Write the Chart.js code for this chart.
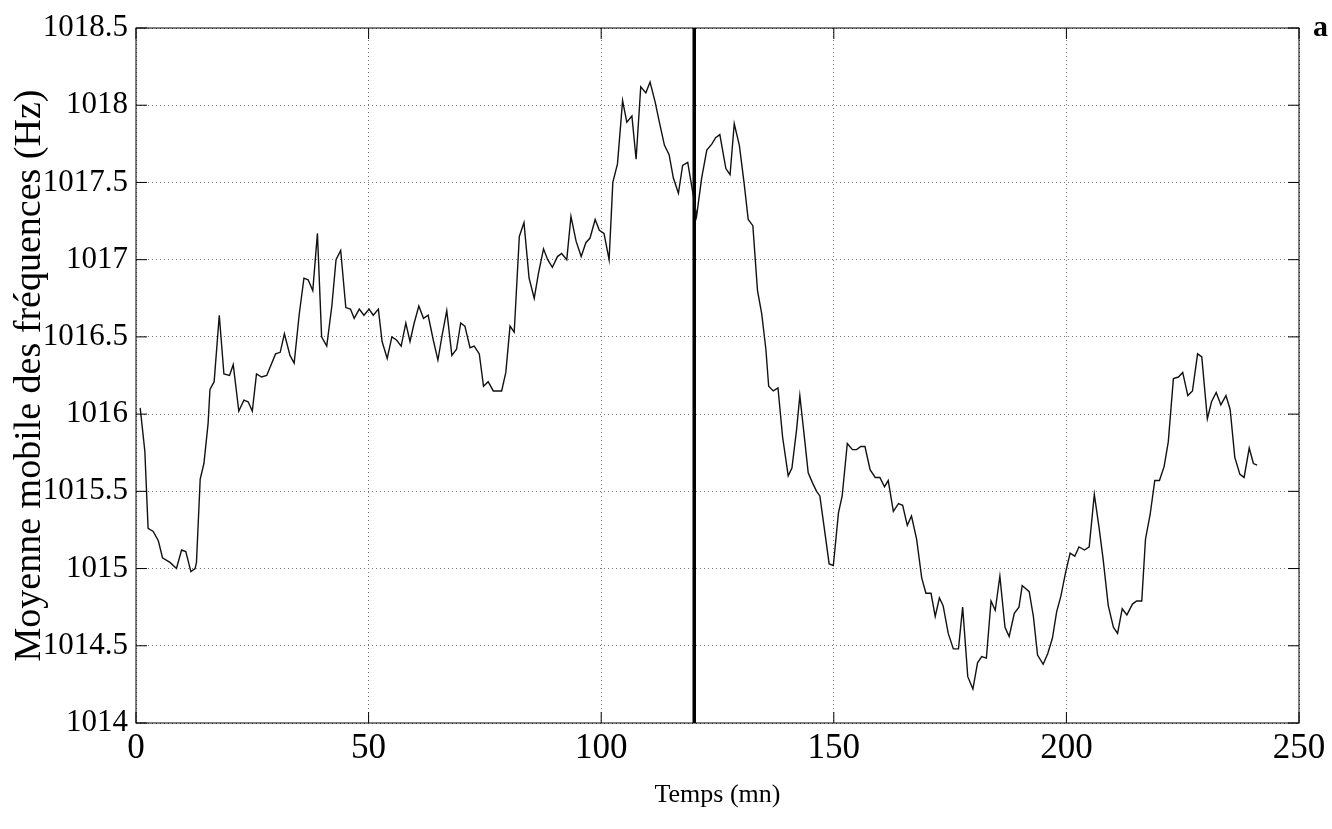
<!DOCTYPE html>
<html>
<head>
<meta charset="utf-8">
<script src="https://cdn.jsdelivr.net/npm/chart.js@4/dist/chart.umd.min.js"></script>
<style>
  body { margin: 0; background: #fff; }
  #wrap { position: relative; width: 1332px; height: 829px; }
  #tag { position: absolute; left: 1313px; top: 9px; line-height: 1; font: bold 30px "Liberation Serif", serif; }
</style>
</head>
<body>
<div id="wrap">
  <canvas id="chart" width="1332" height="829"></canvas>
  <div id="tag">a</div>
</div>
<script>
"use strict";
// temps (mn) et moyenne mobile (Hz)
const times = [
  0.9, 1.9, 2.6, 3.7, 4.8, 5.7, 7.3, 8.7, 9.8, 10.7, 11.8, 12.7, 13.0, 13.8, 14.6, 15.5, 15.9, 16.8, 17.9, 18.9,
  20.1, 20.9, 22.1, 23.2, 24.1, 25.0, 25.9, 27.0, 28.1, 30.0, 31.0, 31.9, 33.1, 34.0, 35.1, 36.1, 37.0, 38.0, 39.0, 39.9,
  41.0, 42.1, 43.0, 44.0, 45.1, 46.1, 46.9, 48.0, 49.0, 50.1, 51.0, 52.1, 52.9, 54.0, 55.0, 56.0, 57.0, 58.0, 58.9, 59.8,
  60.8, 61.8, 62.8, 63.9, 64.9, 65.8, 66.8, 67.9, 68.9, 69.8, 70.7, 71.8, 72.7, 73.8, 74.7, 75.7, 76.8, 78.6, 79.5, 80.4,
  81.3, 82.4, 83.4, 84.5, 85.6, 86.5, 87.6, 88.5, 89.5, 90.6, 91.5, 92.6, 93.5, 94.6, 95.7, 96.7, 97.6, 98.7, 99.6, 100.6,
  101.7, 102.5, 103.5, 104.6, 105.5, 106.6, 107.5, 108.5, 109.6, 110.5, 111.6, 112.5, 113.6, 114.6, 115.5, 116.6, 117.5, 118.6, 119.6, 120.5,
  121.6, 122.7, 123.8, 124.6, 125.5, 126.8, 127.7, 128.6, 129.7, 130.7, 131.6, 132.6, 133.6, 134.5, 135.4, 136.0, 137.0, 138.0, 139.0, 140.2,
  141.0, 142.0, 142.7, 143.5, 144.5, 145.5, 146.3, 147.0, 148.1, 149.0, 149.9, 151.0, 151.8, 152.9, 154.0, 154.9, 155.8, 156.7, 157.8, 158.9,
  159.9, 160.9, 161.7, 162.8, 163.9, 164.8, 165.8, 166.7, 167.8, 168.9, 169.8, 170.9, 171.8, 172.7, 173.5, 174.6, 175.7, 176.8, 177.7, 178.8,
  179.9, 180.9, 181.8, 182.8, 183.8, 184.7, 185.7, 186.8, 187.7, 188.8, 189.8, 190.5, 192.0, 192.9, 193.8, 195.0, 196.0, 197.0, 197.9, 198.8,
  199.8, 200.8, 201.8, 202.7, 203.9, 204.9, 206.0, 207.0, 207.9, 209.0, 210.1, 211.0, 212.0, 213.0, 214.2, 215.1, 216.2, 217.0, 218.0, 219.0,
  220.0, 221.0, 221.9, 223.0, 224.1, 225.0, 226.1, 227.1, 228.2, 229.1, 230.3, 231.2, 232.2, 233.2, 234.3, 235.2, 236.2, 237.3, 238.2, 239.3,
  240.2, 241.0
];
const freqs = [
  1016.04, 1015.76, 1015.26, 1015.24, 1015.18, 1015.07, 1015.04, 1015.00, 1015.12, 1015.11, 1014.98, 1015.00, 1015.04, 1015.58, 1015.68, 1015.94, 1016.16, 1016.21, 1016.64, 1016.26,
  1016.25, 1016.32, 1016.02, 1016.09, 1016.08, 1016.02, 1016.26, 1016.24, 1016.25, 1016.39, 1016.40, 1016.52, 1016.38, 1016.33, 1016.65, 1016.88, 1016.87, 1016.80, 1017.17, 1016.50,
  1016.44, 1016.70, 1017.00, 1017.06, 1016.69, 1016.68, 1016.62, 1016.68, 1016.64, 1016.68, 1016.64, 1016.68, 1016.47, 1016.36, 1016.50, 1016.48, 1016.44, 1016.59, 1016.47, 1016.59,
  1016.70, 1016.62, 1016.64, 1016.48, 1016.35, 1016.51, 1016.67, 1016.38, 1016.42, 1016.59, 1016.57, 1016.43, 1016.44, 1016.39, 1016.18, 1016.21, 1016.15, 1016.15, 1016.27, 1016.57,
  1016.53, 1017.15, 1017.24, 1016.88, 1016.75, 1016.91, 1017.07, 1017.00, 1016.95, 1017.02, 1017.04, 1017.00, 1017.28, 1017.12, 1017.02, 1017.11, 1017.14, 1017.26, 1017.19, 1017.17,
  1017.00, 1017.50, 1017.62, 1018.03, 1017.89, 1017.93, 1017.65, 1018.12, 1018.08, 1018.15, 1018.02, 1017.89, 1017.74, 1017.68, 1017.53, 1017.43, 1017.61, 1017.63, 1017.45, 1017.28,
  1017.53, 1017.71, 1017.75, 1017.79, 1017.81, 1017.59, 1017.55, 1017.88, 1017.74, 1017.50, 1017.26, 1017.22, 1016.80, 1016.65, 1016.42, 1016.18, 1016.15, 1016.17, 1015.85, 1015.60,
  1015.65, 1015.90, 1016.12, 1015.90, 1015.62, 1015.55, 1015.50, 1015.47, 1015.23, 1015.03, 1015.02, 1015.36, 1015.47, 1015.81, 1015.77, 1015.77, 1015.79, 1015.79, 1015.64, 1015.59,
  1015.59, 1015.53, 1015.57, 1015.37, 1015.42, 1015.41, 1015.28, 1015.34, 1015.19, 1014.94, 1014.84, 1014.84, 1014.69, 1014.81, 1014.76, 1014.58, 1014.48, 1014.48, 1014.75, 1014.30,
  1014.22, 1014.39, 1014.43, 1014.42, 1014.79, 1014.73, 1014.95, 1014.62, 1014.56, 1014.71, 1014.75, 1014.89, 1014.85, 1014.69, 1014.44, 1014.38, 1014.45, 1014.55, 1014.72, 1014.82,
  1014.97, 1015.10, 1015.08, 1015.14, 1015.12, 1015.14, 1015.48, 1015.27, 1015.06, 1014.76, 1014.62, 1014.58, 1014.74, 1014.70, 1014.77, 1014.79, 1014.79, 1015.19, 1015.35, 1015.57,
  1015.57, 1015.66, 1015.82, 1016.23, 1016.24, 1016.27, 1016.12, 1016.15, 1016.39, 1016.37, 1015.97, 1016.08, 1016.14, 1016.06, 1016.12, 1016.03, 1015.72, 1015.61, 1015.59, 1015.78,
  1015.68, 1015.67
];
const markerTime = 120;
const xTicks = [0, 50, 100, 150, 200, 250];
const yTicks = [1014, 1014.5, 1015, 1015.5, 1016, 1016.5, 1017, 1017.5, 1018, 1018.5];

const serif = '"Liberation Serif", "Times New Roman", serif';

// cadre noir + petites graduations vers l'intérieur
const framePlugin = {
  id: 'frame',
  afterDraw(chart) {
    const { ctx, chartArea: a, scales } = chart;
    const len = 11;
    ctx.save();
    ctx.strokeStyle = '#000';
    ctx.lineWidth = 1;
    ctx.strokeRect(a.left, a.top, a.right - a.left, a.bottom - a.top);
    ctx.beginPath();
    xTicks.forEach(v => {
      const px = scales.x.getPixelForValue(v);
      ctx.moveTo(px, a.bottom); ctx.lineTo(px, a.bottom - len);
      ctx.moveTo(px, a.top); ctx.lineTo(px, a.top + len);
    });
    yTicks.forEach(v => {
      const py = scales.y.getPixelForValue(v);
      ctx.moveTo(a.left, py); ctx.lineTo(a.left + len, py);
      ctx.moveTo(a.right, py); ctx.lineTo(a.right - len, py);
    });
    ctx.stroke();
    ctx.restore();
  }
};

const ctx = document.getElementById('chart').getContext('2d');
new Chart(ctx, {
  type: 'line',
  data: {
    datasets: [
      {
        data: times.map((t, i) => ({ x: t, y: freqs[i] })),
        borderColor: '#111',
        borderWidth: 1.4,
        pointRadius: 0,
        tension: 0
      },
      {
        data: [{ x: markerTime, y: yTicks[0] }, { x: markerTime, y: yTicks[yTicks.length - 1] }],
        borderColor: '#000',
        borderWidth: 3.5,
        pointRadius: 0
      }
    ]
  },
  options: {
    responsive: false,
    animation: false,
    layout: { padding: { top: 28, right: 33, left: 0, bottom: 0 } },
    plugins: { legend: { display: false }, tooltip: { enabled: false } },
    scales: {
      x: {
        type: 'linear',
        min: 0,
        max: 250,
        afterBuildTicks: s => { s.ticks = xTicks.map(v => ({ value: v })); },
        afterFit: s => { s.height = 106; },
        grid: { color: '#777', lineWidth: 1, drawTicks: false },
        border: { display: false, dash: [1, 3] },
        ticks: { color: '#000', padding: 5, font: { family: serif, size: 35 }, callback: v => String(v) },
        title: { display: true, text: 'Temps (mn)', color: '#000', font: { family: serif, size: 26 }, padding: { top: 0, bottom: 18 } }
      },
      y: {
        min: 1014,
        max: 1018.5,
        afterBuildTicks: s => { s.ticks = yTicks.map(v => ({ value: v })); },
        afterFit: s => { s.width = 136; },
        grid: { color: '#777', lineWidth: 1, drawTicks: false },
        border: { display: false, dash: [1, 3] },
        ticks: { color: '#000', padding: 8, font: { family: serif, size: 31 }, callback: v => String(v) },
        title: { display: true, text: 'Moyenne mobile des fréquences (Hz)', color: '#000', font: { family: serif, size: 38 }, padding: { top: 7, bottom: 0 } }
      }
    }
  },
  plugins: [framePlugin]
});
</script>
</body>
</html>
